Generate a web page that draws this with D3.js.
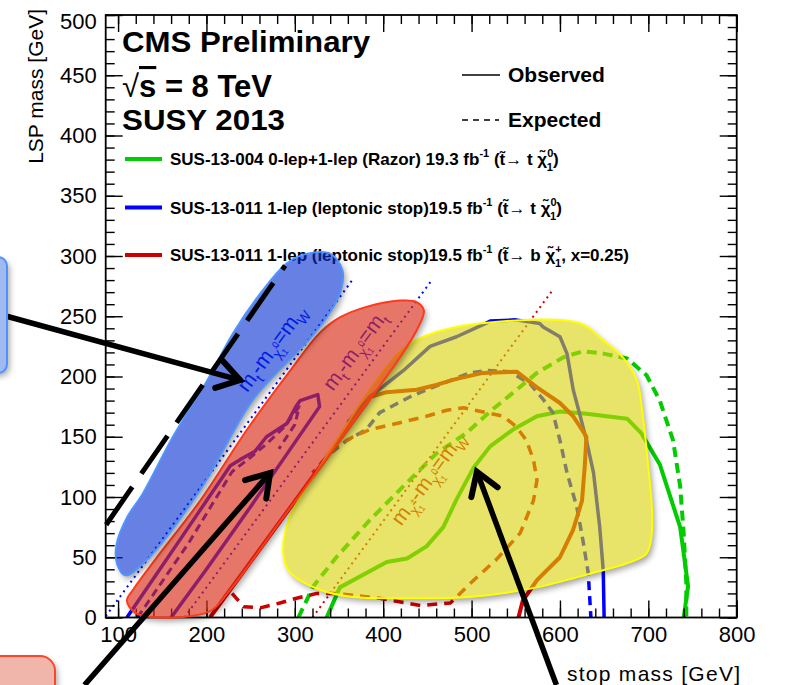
<!DOCTYPE html>
<html>
<head>
<meta charset="utf-8">
<script src="https://cdn.jsdelivr.net/npm/d3@7"></script>
<style>
  html, body { margin: 0; padding: 0; background: #fff; }
  svg { display: block; font-family: "Liberation Sans", Arial, Helvetica, sans-serif; }
</style>
</head>
<body>
<svg id="chart" width="785" height="685"></svg>
<script>
// ---- axis ranges and ticks (GeV) ----
const stopRange = [86, 800];
const lspRange = [0, 500];
const xMajorTicks = [100, 200, 300, 400, 500, 600, 700, 800];
const xMinorTicks = d3.range(100, 801, 20);
const yMajorTicks = [0, 50, 100, 150, 200, 250, 300, 350, 400, 450, 500];
const yMinorTicks = d3.range(0, 501, 10);

// ---- exclusion contours, [stop mass, LSP mass] ----
// SUS-13-004 razor, T2tt
const razorObserved = [[336,0],[351,25],[404,46],[427,49],[449,59],[468,75],[483,98],[502,124],[521,142],[547,156],[574,167],[600,171],[630,169],[676,165],[692,153],[713,127],[736,75],[745,26],[740,0]];
const razorExpected = [[304,0],[321,26],[347,50],[385,81],[423,109],[460,136],[494,153],[521,171],[551,189],[574,203],[604,216],[626,221],[649,219],[676,215],[698,201],[713,180],[728,147],[736,109],[740,70],[743,28],[743,0]];
// SUS-13-011 leptonic stop, T2tt
const lepTopObservedDiag = [[110,0],[150,43],[190,86],[227,126],[238,131],[255,138],[268,150],[291,161],[302,176],[306,180],[326,185],[328,175],[250,92],[200,40],[160,0]];
const lepTopExpectedDiag = [[122,0],[180,62],[229,121],[250,133],[268,144],[288,158],[305,175],[300,160],[282,140]];
const lepTopObserved = [[360,162],[385,183],[423,205],[453,225],[483,233],[513,243],[521,246],[550,247],[577,244],[581,241],[600,233],[608,219],[615,189],[623,167],[630,147],[638,120],[645,75],[649,39],[650,0]];
const lepTopExpected = [[330,128],[340,136],[359,147],[381,156],[396,170],[430,183],[449,189],[498,203],[517,205],[543,204],[566,194],[581,181],[592,170],[600,147],[608,120],[619,92],[626,64],[632,37],[635,0]];
// SUS-13-011 leptonic stop, T2bW x=0.25
const lepBwObserved = [[204,0],[381,178],[385,183],[404,187],[438,189],[460,193],[483,198],[513,203],[551,204],[574,191],[600,178],[615,167],[630,150],[628,125],[625,97],[615,73],[600,50],[574,31],[558,14],[553,0]];
const lepBwExpected = [[229,20],[242,9],[261,8],[283,12],[302,16],[325,20],[347,20],[396,16],[442,10],[476,12],[498,28],[528,48],[555,70],[570,97],[574,114],[570,131],[562,147],[551,158],[536,167],[491,174],[472,172],[449,167],[415,161],[385,156],[366,150],[347,142],[320,120]];

// ---- kinematic boundaries m_stop - m_LSP = dm ----
const kinDeltaM = [85, 175, 320];
const kinStopFrom = [86, 175, 320];
const kinStopTo = [365, 455, 593];
const kinColors = ["#0000ff", "#0000ff", "#cc0000"];
const kinLabelStop = [280, 374, 457];
const kinLabelLsp = [220, 218, 112];

// ---- highlighted regions, [stop mass, LSP mass] ----
const regionWDiag = [[108,35],[130,46],[193,106],[253,181],[313,228],[336,249],[351,269],[354,288],[340,302],[314,302],[291,294],[261,269],[230,236],[201,197],[162,150],[128,103],[110,83],[98,60],[99,44]];
const regionTopDiag = [[110,14],[119,4],[136,0.5],[181,1],[206,6],[227,23],[291,87],[382,178],[419,216],[439,240],[446,255],[437,262],[419,263],[382,258],[351,249],[328,236],[295,205],[246,156],[193,97],[142,48],[117,23]];
const regionBulk = [[287,53],[294,83],[324,120],[356,157],[385,189],[420,221],[449,234],[509,244],[623,244],[649,230],[671,216],[687,197],[693,172],[700,125],[704,92],[704,70],[698,53],[676,45],[637,37],[574,25],[498,17],[422,16],[366,17],[328,23],[295,37]];

// ---- call-out arrows [from, tip] and guide line ----
const arrowFromBox = [[-26,250],[238,197]];
const arrowToTop = [[62,-56],[272,120]];
const arrowToBulk = [[596,-56],[506,121]];
const guideLine = [[86.5,77],[289,292]];

const svg = d3.select("#chart");
const W = 785, H = 685;
const frameL = 105.7, frameR = 736.7, frameT = 15, frameB = 617.5;

const x = d3.scaleLinear().domain(stopRange).range([frameL, frameR]);
const y = d3.scaleLinear().domain(lspRange).range([frameB, frameT]);
const line = d3.line().x(d => x(d[0])).y(d => y(d[1]));
const smoothClosed = d3.line().x(d => x(d[0])).y(d => y(d[1])).curve(d3.curveCatmullRomClosed.alpha(0.5));

svg.append("rect").attr("width", W).attr("height", H).attr("fill", "#fff");

const defs = svg.append("defs");
defs.append("clipPath").attr("id", "frameClip")
  .append("rect").attr("x", frameL).attr("y", frameT).attr("width", frameR - frameL).attr("height", frameB - frameT);
defs.append("filter").attr("id", "soft").attr("x", "-20%").attr("y", "-20%").attr("width", "140%").attr("height", "140%")
  .append("feGaussianBlur").attr("stdDeviation", 3);

// ---- contour lines ----
const plot = svg.append("g").attr("clip-path", "url(#frameClip)");

const contours = [
  { d: razorExpected, c: "#00cc00", w: 4, dash: "10,6" },
  { d: razorObserved, c: "#00cc00", w: 4, dash: null },
  { d: lepTopExpectedDiag, c: "#0000ff", w: 3, dash: "8,5" },
  { d: lepTopObservedDiag, c: "#0000ff", w: 3.5, dash: null },
  { d: lepTopExpected, c: "#0000ff", w: 3.5, dash: "9,6" },
  { d: lepTopObserved, c: "#0000ff", w: 3.5, dash: null },
  { d: lepBwExpected, c: "#cc0000", w: 3.5, dash: "10,7" },
  { d: lepBwObserved, c: "#cc0000", w: 4, dash: null }
];
contours.forEach(k => {
  plot.append("path").attr("d", line(k.d)).attr("fill", "none")
    .attr("stroke", k.c).attr("stroke-width", k.w)
    .attr("stroke-dasharray", k.dash).attr("stroke-linejoin", "round");
});

// kinematic boundaries and their labels
const slopeDeg = Math.atan2(y(100) - y(0), x(100) - x(0)) * 180 / Math.PI;
kinDeltaM.forEach((dm, i) => {
  const pts = [[kinStopFrom[i], kinStopFrom[i] - dm], [kinStopTo[i], kinStopTo[i] - dm]];
  plot.append("path").attr("d", line(pts)).attr("fill", "none")
    .attr("stroke", kinColors[i]).attr("stroke-width", 2).attr("stroke-dasharray", "2,4");
});

const kinLabelParts = [
  [["m",0],["t",1],["-m",0],["χ̃",1],["0",2],["1",3],["=m",0],["W",1]],
  [["m",0],["t",1],["-m",0],["χ̃",1],["0",2],["1",3],["=m",0],["t",1]],
  [["m",0],["χ̃",1],["±",2],["1",3],["-m",0],["χ̃",1],["0",2],["1",3],["=m",0],["W",1]]
];
kinLabelParts.forEach((parts, i) => {
  const t = plot.append("text")
    .attr("transform", `translate(${x(kinLabelStop[i])},${y(kinLabelLsp[i])}) rotate(${slopeDeg})`)
    .attr("text-anchor", "middle").attr("font-size", 21).attr("fill", kinColors[i]);
  let prev = 0;
  parts.forEach(([s, kind]) => {
    const shift = kind === 0 ? 0 : kind === 1 ? 6 : kind === 2 ? -3 : 9;
    const fs = kind === 0 ? 21 : kind === 1 ? 14 : 9;
    const ts = t.append("tspan").text(s).attr("font-size", fs).attr("dy", shift - prev);
    if (kind === 3) ts.attr("dx", -5);
    prev = shift;
  });
});

// ---- frame and axes ----
const axes = svg.append("g");
function styleAxis(g) {
  g.attr("font-family", "'Liberation Sans', Arial, sans-serif");
  g.select(".domain").remove();
  g.selectAll(".tick line").attr("stroke", "#000").attr("stroke-width", 1.4);
  g.selectAll("text").attr("font-size", 22).attr("fill", "#000");
}
axes.append("g").attr("transform", `translate(0,${frameB})`)
  .call(d3.axisBottom(x).tickValues(xMinorTicks).tickSize(-9).tickFormat(""))
  .call(styleAxis);
axes.append("g").attr("transform", `translate(0,${frameB})`)
  .call(d3.axisBottom(x).tickValues(xMajorTicks).tickSize(-17).tickPadding(9).tickFormat(d3.format("d")))
  .call(styleAxis);
axes.append("g").attr("transform", `translate(0,${frameT})`)
  .call(d3.axisTop(x).tickValues(xMinorTicks).tickSize(-9).tickFormat(""))
  .call(styleAxis);
axes.append("g").attr("transform", `translate(0,${frameT})`)
  .call(d3.axisTop(x).tickValues(xMajorTicks).tickSize(-17).tickFormat(""))
  .call(styleAxis);
axes.append("g").attr("transform", `translate(${frameL},0)`)
  .call(d3.axisLeft(y).tickValues(yMinorTicks).tickSize(-9).tickFormat(""))
  .call(styleAxis);
const yLab = axes.append("g").attr("transform", `translate(${frameL},0)`)
  .call(d3.axisLeft(y).tickValues(yMajorTicks).tickSize(-17).tickPadding(9).tickFormat(d3.format("d")))
  .call(styleAxis);
yLab.selectAll(".tick").filter(d => d === lspRange[1]).select("text").attr("dy", "0.6em");
axes.append("g").attr("transform", `translate(${frameR},0)`)
  .call(d3.axisRight(y).tickValues(yMinorTicks).tickSize(-9).tickFormat(""))
  .call(styleAxis);
axes.append("g").attr("transform", `translate(${frameR},0)`)
  .call(d3.axisRight(y).tickValues(yMajorTicks).tickSize(-17).tickFormat(""))
  .call(styleAxis);
axes.append("rect").attr("x", frameL).attr("y", frameT).attr("width", frameR - frameL).attr("height", frameB - frameT)
  .attr("fill", "none").attr("stroke", "#000").attr("stroke-width", 1.8);

axes.append("text").attr("x", 740).attr("y", 681).attr("text-anchor", "end")
  .attr("font-size", 21).attr("textLength", 173).text("stop mass [GeV]");
axes.append("text").attr("transform", "translate(43,9) rotate(-90)").attr("text-anchor", "end")
  .attr("font-size", 21).text("LSP mass [GeV]");

// ---- header ----
const head = svg.append("g").attr("font-weight", "bold").attr("fill", "#000");
head.append("text").attr("x", 122).attr("y", 52).attr("font-size", 30).attr("textLength", 248)
  .attr("lengthAdjust", "spacingAndGlyphs").text("CMS Preliminary");
const rs = head.append("text").attr("x", 122).attr("y", 97).attr("font-size", 31);
rs.append("tspan").attr("font-weight", "normal").text("√");
rs.append("tspan").style("text-decoration", "overline").text("s");
rs.append("tspan").text(" = 8 TeV");
head.append("text").attr("x", 122).attr("y", 130).attr("font-size", 30).attr("textLength", 163)
  .attr("lengthAdjust", "spacingAndGlyphs").text("SUSY 2013");

// ---- legend ----
const leg = svg.append("g").attr("font-weight", "bold").attr("fill", "#000");
leg.append("line").attr("x1", 462).attr("x2", 500).attr("y1", 75).attr("y2", 75).attr("stroke", "#000").attr("stroke-width", 1.3);
leg.append("text").attr("x", 508).attr("y", 82).attr("font-size", 21).text("Observed");
leg.append("line").attr("x1", 462).attr("x2", 499).attr("y1", 120).attr("y2", 120).attr("stroke", "#000")
  .attr("stroke-width", 1.3).attr("stroke-dasharray", "6,5");
leg.append("text").attr("x", 508).attr("y", 127).attr("font-size", 21).text("Expected");

const legendColors = ["#00cc00", "#0000ff", "#cc0000"];
const legendRows = [159, 207.5, 255];
const legendParts = [
  [["SUS-13-004 0-lep+1-lep (Razor) 19.3 fb",0],["-1",2],[" (t̃→ t ",0],["χ̃",0],["0",2],["1",3],[")",0]],
  [["SUS-13-011 1-lep (leptonic stop)19.5 fb",0],["-1",2],[" (t̃→ t ",0],["χ̃",0],["0",2],["1",3],[")",0]],
  [["SUS-13-011 1-lep (leptonic stop)19.5 fb",0],["-1",2],[" (t̃→ b ",0],["χ̃",0],["+",2],["1",3],[", x=0.25)",0]]
];
legendParts.forEach((parts, i) => {
  leg.append("line").attr("x1", 125).attr("x2", 162).attr("y1", legendRows[i]).attr("y2", legendRows[i])
    .attr("stroke", legendColors[i]).attr("stroke-width", 4);
  const t = leg.append("text").attr("x", 170).attr("y", legendRows[i] + 6).attr("font-size", 17);
  let prev = 0;
  parts.forEach(([s, kind]) => {
    const shift = kind === 0 ? 0 : kind === 2 ? -8 : 6;
    const fs = kind === 0 ? 17 : 11;
    const ts = t.append("tspan").text(s).attr("font-size", fs).attr("dy", shift - prev);
    if (kind === 3) ts.attr("dx", -6.5);
    prev = shift;
  });
});

// ---- highlighted regions with drop shadows falling outside ----
const regions = svg.append("g");
function region(data, id, fill, opacity, stroke, sw) {
  const d = smoothClosed(data);
  const m = defs.append("mask").attr("id", id).attr("maskUnits", "userSpaceOnUse")
    .attr("x", 0).attr("y", 0).attr("width", W).attr("height", H);
  m.append("rect").attr("width", W).attr("height", H).attr("fill", "#fff");
  m.append("path").attr("d", d).attr("fill", "#000");
  regions.append("g").attr("mask", `url(#${id})`)
    .append("path").attr("d", d).attr("transform", "translate(2.5,3.5)")
    .attr("fill", "#000").attr("opacity", 0.38).attr("filter", "url(#soft)");
  regions.append("path").attr("d", d)
    .attr("fill", fill).attr("fill-opacity", opacity)
    .attr("stroke", stroke).attr("stroke-width", sw);
}
region(regionBulk, "mBulk", "rgb(217,210,5)", 0.6, "#ffff00", 2);
region(regionTopDiag, "mTop", "rgb(216,46,23)", 0.65, "#ff3a1a", 2);
region(regionWDiag, "mW", "rgb(2,43,210)", 0.6, "#4f95ff", 1.8);

// ---- call-outs ----
const notes = svg.append("g");
notes.append("path").attr("d", line(guideLine)).attr("fill", "none").attr("stroke", "#000")
  .attr("stroke-width", 5).attr("stroke-dasharray", "46,16");

function arrow(a) {
  const p0 = [x(a[0][0]), y(a[0][1])], p1 = [x(a[1][0]), y(a[1][1])];
  const ang = Math.atan2(p1[1] - p0[1], p1[0] - p0[0]);
  const L = 26, spread = Math.PI / 5.5;
  const wing = s => [p1[0] - L * Math.cos(ang + s), p1[1] - L * Math.sin(ang + s)];
  notes.append("line").attr("x1", p0[0]).attr("y1", p0[1]).attr("x2", p1[0]).attr("y2", p1[1])
    .attr("stroke", "#000").attr("stroke-width", 5.5);
  notes.append("path").attr("d", d3.line()([wing(spread), p1, wing(-spread)]))
    .attr("fill", "none").attr("stroke", "#000").attr("stroke-width", 6)
    .attr("stroke-linejoin", "miter").attr("stroke-linecap", "round");
}
[arrowFromBox, arrowToTop, arrowToBulk].forEach(arrow);

// boxes of the side call-outs
function box(bx, by, bw, bh, r, fill, stroke, id) {
  const m = defs.append("mask").attr("id", id).attr("maskUnits", "userSpaceOnUse")
    .attr("x", 0).attr("y", 0).attr("width", W).attr("height", H);
  m.append("rect").attr("width", W).attr("height", H).attr("fill", "#fff");
  m.append("rect").attr("x", bx).attr("y", by).attr("width", bw).attr("height", bh).attr("rx", r).attr("fill", "#000");
  notes.append("g").attr("mask", `url(#${id})`).append("rect")
    .attr("x", bx + 2.5).attr("y", by + 3.5).attr("width", bw).attr("height", bh).attr("rx", r)
    .attr("fill", "#000").attr("opacity", 0.35).attr("filter", "url(#soft)");
  notes.append("rect").attr("x", bx).attr("y", by).attr("width", bw).attr("height", bh).attr("rx", r)
    .attr("fill", fill).attr("stroke", stroke).attr("stroke-width", 2);
}
box(-30, 257, 37, 116, 9, "rgb(160,185,240)", "rgb(80,145,255)", "mBoxW");
box(-30, 656, 85, 60, 15, "rgb(240,182,172)", "rgb(255,70,40)", "mBoxT");
</script>
</body>
</html>
